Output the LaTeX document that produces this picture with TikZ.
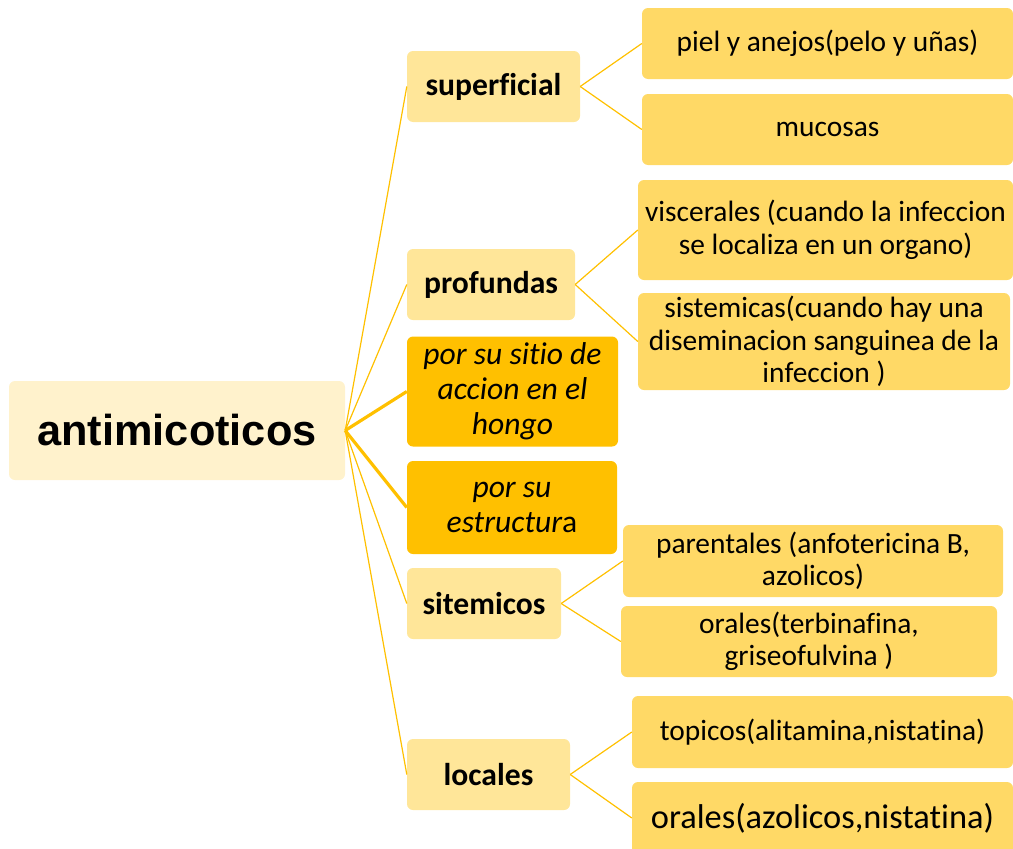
\documentclass[tikz,border=0pt]{standalone}
\usepackage{fontspec}
\setmainfont[Ligatures=NoCommon]{Carlito}
\newfontfamily\rootfont{Liberation Sans}
\definecolor{rootfill}{HTML}{FFF2CC}
\definecolor{lvlfill}{HTML}{FFE699}
\definecolor{orangefill}{HTML}{FFC000}
\definecolor{childfill}{HTML}{FFD966}
\definecolor{linecol}{HTML}{FFC000}
\begin{document}
\begin{tikzpicture}[x=1pt,y=-1pt,
  basebox/.style={rounded corners=6pt, inner sep=0pt, align=center, anchor=center},
  rootbox/.style={basebox, fill=rootfill, font=\rootfont\bfseries\fontsize{43.3}{48}\selectfont},
  lvlbox/.style={basebox, fill=lvlfill, font=\bfseries\fontsize{31.6}{35}\selectfont},
  orbox/.style={basebox, fill=orangefill, font=\itshape\fontsize{31.6}{35}\selectfont},
  childbox/.style={basebox, fill=childfill, font=\fontsize{29.4}{32.5}\selectfont},
  thinline/.style={draw=linecol, line width=1.2pt},
  thickline/.style={draw=linecol, line width=3.2pt}]
\useasboundingbox (0,0) rectangle (1013,849);
\node[rootbox, minimum width=336pt, minimum height=99pt] (root) at (177,430.5) {antimicoticos};
\node[lvlbox, minimum width=173pt, minimum height=71pt] (sup) at (493.5,86.5) {superficial};
\node[lvlbox, minimum width=168pt, minimum height=71pt] (prof) at (491,284.5) {profundas};
\node[orbox, minimum width=211pt, minimum height=110pt] (sitio) at (512.5,391.5) {por su sitio de\\accion en el\\hongo};
\node[orbox, minimum width=210pt, minimum height=93pt] (estr) at (512,507.5) {por su\\estructur\upshape a};
\node[lvlbox, minimum width=154pt, minimum height=71pt] (sitem) at (484,603.5) {sitemicos};
\node[lvlbox, minimum width=163pt, minimum height=71pt] (loc) at (488.5,774.5) {locales};
\node[childbox, minimum width=371pt, minimum height=71pt] (piel) at (827.5,43.5) {piel y anejos(pelo y uñas)};
\node[childbox, minimum width=371pt, minimum height=71pt] (muc) at (827.5,129.5) {mucosas};
\node[childbox, minimum width=375pt, minimum height=100pt] (visc) at (825.5,230) {viscerales (cuando la infeccion\\se localiza en un organo)};
\node[childbox, minimum width=372pt, minimum height=97pt] (sist) at (824,341.5) {sistemicas(cuando hay una\\diseminacion sanguinea de la\\infeccion )};
\node[childbox, minimum width=380pt, minimum height=72pt] (par) at (813,561) {parentales (anfotericina B,\\azolicos)};
\node[childbox, minimum width=376pt, minimum height=71pt] (oral1) at (809,641.5) {orales(terbinafina,\\griseofulvina )};
\node[childbox, minimum width=381pt, minimum height=72pt] (top) at (822.5,732) {topicos(alitamina,nistatina)};
\node[childbox, minimum width=381pt, minimum height=72pt, font=\fontsize{34.4}{38}\selectfont] (oral2) at (822.5,818) {orales(azolicos,nistatina)};
\draw[thinline] (root.east) -- (sup.west);
\draw[thinline] (root.east) -- (prof.west);
\draw[thickline] (root.east) -- (sitio.west);
\draw[thickline] (root.east) -- (estr.west);
\draw[thinline] (root.east) -- (sitem.west);
\draw[thinline] (root.east) -- (loc.west);
\draw[thinline] (sup.east) -- (piel.west);
\draw[thinline] (sup.east) -- (muc.west);
\draw[thinline] (prof.east) -- (visc.west);
\draw[thinline] (prof.east) -- (sist.west);
\draw[thinline] (sitem.east) -- (par.west);
\draw[thinline] (sitem.east) -- (oral1.west);
\draw[thinline] (loc.east) -- (top.west);
\draw[thinline] (loc.east) -- (oral2.west);
\end{tikzpicture}
\end{document}
